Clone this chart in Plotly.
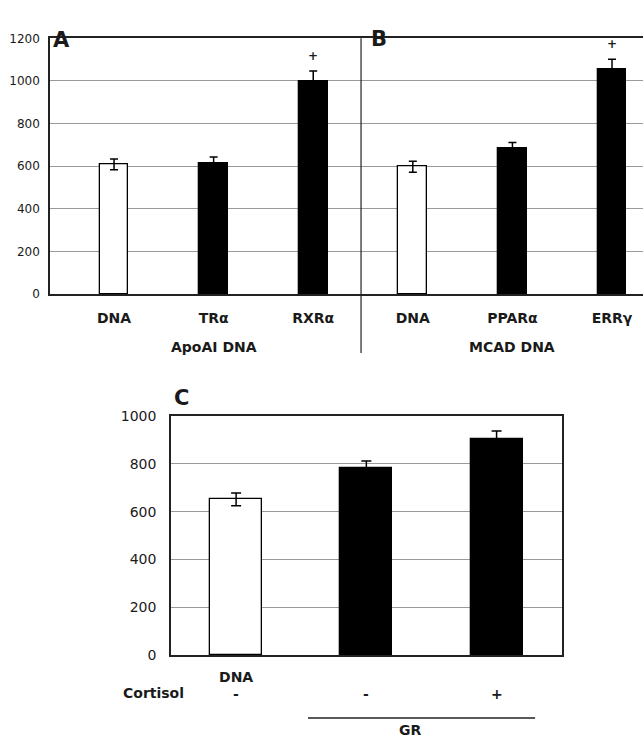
import plotly.graph_objects as go

# ---- Data ----
ab_labels = ["DNA", "TRα", "RXRα", "DNA", "PPARα", "ERRγ"]
ab_values = [608, 615, 1000, 597, 686, 1053]
ab_errors = [25, 28, 47, 26, 25, 49]
ab_colors = ["white", "black", "black", "white", "black", "black"]
ab_sig = ["", "", "+", "", "", "+"]
ab_groups = ["ApoAI DNA", "MCAD DNA"]

c_labels = ["DNA", "", ""]
c_values = [651, 784, 905]
c_errors = [27, 28, 32]
c_colors = ["white", "black", "black"]
c_cortisol = ["-", "-", "+"]
c_group = "GR"

y_ticks_ab = [0, 200, 400, 600, 800, 1000, 1200]
y_ticks_c = [0, 200, 400, 600, 800, 1000]

W, H = 643, 748
FONT = "DejaVu Sans, Arial, sans-serif"

def px(x):
    return x / W

def py(y):
    return 1 - y / H

ab_x = list(range(len(ab_labels)))
c_x = list(range(len(c_labels)))

fig = go.Figure()

fig.add_trace(go.Bar(
    x=ab_x, y=ab_values, width=0.29,
    marker=dict(color=ab_colors, line=dict(color="black", width=1.3)),
    error_y=dict(type="data", array=ab_errors, color="black", thickness=1.5, width=4),
    xaxis="x", yaxis="y", showlegend=False,
))

fig.add_trace(go.Bar(
    x=c_x, y=c_values, width=0.40,
    marker=dict(color=c_colors, line=dict(color="black", width=1.3)),
    error_y=dict(type="data", array=c_errors, color="black", thickness=1.5, width=5),
    xaxis="x2", yaxis="y2", showlegend=False,
))

grid = "#9a9a9a"
fig.update_layout(
    width=W, height=H,
    margin=dict(l=0, r=0, t=0, b=0, autoexpand=False),
    paper_bgcolor="white", plot_bgcolor="white",
    font=dict(family=FONT, color="#1a1a1a"),
    xaxis=dict(
        domain=[px(50), 1.0], range=[-0.643, 5.311],
        tickvals=ab_x, ticktext=["<b>%s</b>" % t for t in ab_labels],
        tickfont=dict(size=14), ticks="outside", ticklen=10,
        tickcolor="rgba(0,0,0,0)", showgrid=False, zeroline=False,
        showline=True, linecolor="#222", linewidth=1.5, mirror=True,
        anchor="y", automargin=False,
    ),
    yaxis=dict(
        domain=[py(294), py(38.3)], range=[0, 1200],
        tickvals=y_ticks_ab, tickfont=dict(size=12),
        ticks="outside", ticklen=6, tickcolor="rgba(0,0,0,0)",
        showgrid=True, gridcolor=grid, gridwidth=1, zeroline=False,
        showline=True, linecolor="#222", linewidth=1.5,
        anchor="x", automargin=False,
    ),
    xaxis2=dict(
        domain=[px(171), px(561.7)], range=[-0.5, 2.5],
        tickvals=c_x, ticktext=["<b>%s</b>" % t for t in c_labels],
        tickfont=dict(size=14), ticks="outside", ticklen=8,
        tickcolor="rgba(0,0,0,0)", showgrid=False, zeroline=False,
        showline=True, linecolor="#222", linewidth=1.5, mirror=True,
        anchor="y2", automargin=False,
    ),
    yaxis2=dict(
        domain=[py(655), py(416)], range=[0, 1000],
        tickvals=y_ticks_c, tickfont=dict(size=14),
        ticks="outside", ticklen=10, tickcolor="rgba(0,0,0,0)",
        showgrid=True, gridcolor=grid, gridwidth=1, zeroline=False,
        showline=True, linecolor="#222", linewidth=1.5, mirror=True,
        anchor="x2", automargin=False,
    ),
    bargap=0,
)

# Divider between A and B
fig.add_shape(type="line", xref="x", yref="paper", x0=2.48, x1=2.48,
              y0=py(353), y1=py(38.3), line=dict(color="#222", width=1.2))

ann = []
# significance marks
for xi, (v, e, s) in enumerate(zip(ab_values, ab_errors, ab_sig)):
    if s:
        ann.append(dict(x=xi, y=v + e + 30, xref="x", yref="y", text="<b>+</b>",
                        showarrow=False, font=dict(size=12), yanchor="bottom"))
# group labels A/B
ann.append(dict(x=1, y=py(347), xref="x", yref="paper", text="<b>%s</b>" % ab_groups[0],
                showarrow=False, font=dict(size=14), xanchor="center"))
ann.append(dict(x=4, y=py(347), xref="x", yref="paper", text="<b>%s</b>" % ab_groups[1],
                showarrow=False, font=dict(size=14), xanchor="center"))
# panel letters
ann.append(dict(x=px(62), y=py(26), xref="paper", yref="paper", text="<b>A</b>",
                showarrow=False, font=dict(size=21), xanchor="center"))
ann.append(dict(x=px(379), y=py(25), xref="paper", yref="paper", text="<b>B</b>",
                showarrow=False, font=dict(size=21), xanchor="center"))
ann.append(dict(x=px(181), y=py(398), xref="paper", yref="paper", text="<b>C</b>",
                showarrow=False, font=dict(size=21), xanchor="center"))
# cortisol row
ann.append(dict(x=px(153), y=py(703), xref="paper", yref="paper", text="<b>Cortisol</b>",
                showarrow=False, font=dict(size=14), xanchor="center"))
for xi, s in enumerate(c_cortisol):
    ann.append(dict(x=xi, y=py(704), xref="x2", yref="paper", text="<b>%s</b>" % s,
                    showarrow=False, font=dict(size=14), xanchor="center"))
ann.append(dict(x=1.336, y=py(740), xref="x2", yref="paper", text="<b>%s</b>" % c_group,
                showarrow=False, font=dict(size=14), xanchor="center"))
fig.update_layout(annotations=ann)

fig.add_shape(type="line", xref="x2", yref="paper", x0=0.552, x1=2.296,
              y0=py(718), y1=py(718), line=dict(color="#222", width=1.5))

fig.write_html("out.html", config={"displayModeBar": False},
               post_script="document.body.style.margin='0';")
